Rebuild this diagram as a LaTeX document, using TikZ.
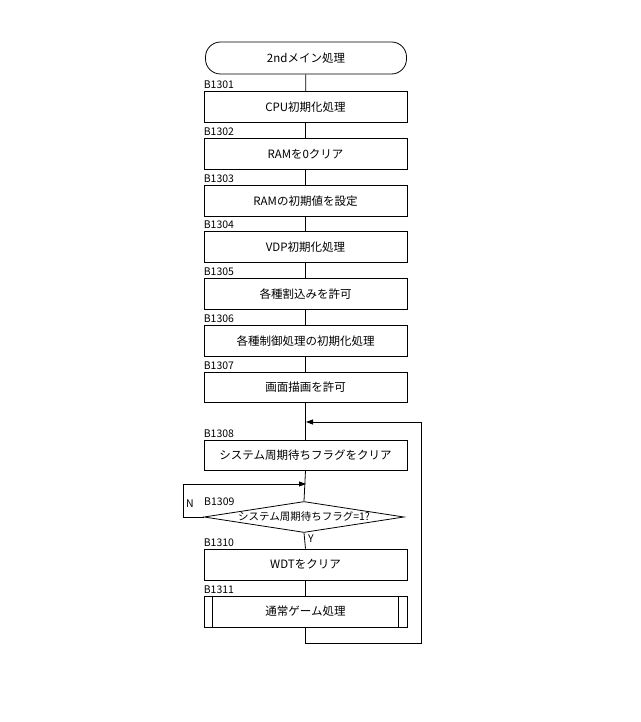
\documentclass[tikz,border=0pt]{standalone}
\usepackage{fontspec}
\setmainfont{Noto Sans CJK JP}
\usetikzlibrary{shapes.geometric,arrows.meta}
\begin{document}
\begin{tikzpicture}[x=1pt,y=-1pt,
  box/.style={draw,line width=0.8pt,minimum width=203pt,minimum height=31pt,inner sep=0pt,font=\fontsize{11.5}{13}\selectfont},
  lab/.style={anchor=south west,inner sep=0pt,font=\fontsize{10.5}{12}\selectfont},
  ln/.style={line width=0.8pt},
  arr/.style={ln,-{Triangle[length=7pt,width=5pt]}}]
\useasboundingbox (0,0) rectangle (640,722);
\node[box,rounded corners=15pt,minimum width=201pt,minimum height=32pt] (s) at (306,58) {2ndメイン処理};
\node[box] (b1) at (305.5,107) {CPU初期化処理};
\node[box] (b2) at (305.5,154) {RAMを0クリア};
\node[box] (b3) at (305.5,201) {RAMの初期値を設定};
\node[box] (b4) at (305.5,247) {VDP初期化処理};
\node[box] (b5) at (305.5,294) {各種割込みを許可};
\node[box] (b6) at (305.5,341) {各種制御処理の初期化処理};
\node[box,minimum height=30pt] (b7) at (305.5,387) {画面描画を許可};
\node[box,minimum height=30pt] (b8) at (305.5,455) {システム周期待ちフラグをクリア};
\node[draw,ln,diamond,aspect=6.6,minimum width=200pt,minimum height=31pt,inner sep=0pt,font=\fontsize{10.5}{12}\selectfont] (d) at (304,517) {システム周期待ちフラグ=1?};
\node[box] (b10) at (305.5,564.5) {WDTをクリア};
\node[box] (b11) at (305.5,611.5) {通常ゲーム処理};
\draw[ln] ([xshift=9pt]b11.north west) -- ([xshift=9pt]b11.south west);
\draw[ln] ([xshift=-9pt]b11.north east) -- ([xshift=-9pt]b11.south east);
\foreach \n/\t in {b1/B1301,b2/B1302,b3/B1303,b4/B1304,b5/B1305,b6/B1306,b7/B1307,b8/B1308,b10/B1310,b11/B1311}
  \node[lab] at ([yshift=2pt]\n.north west) {\t};
\node[lab] at (204,506) {B1309};
\node[lab] at (186,508) {N};
\node[font=\fontsize{10.5}{12}\selectfont,inner sep=0pt] at (311,539) {Y};
\coordinate (m1) at (306,422);
\coordinate (m2) at (306,484);
\draw[ln] (s) -- (b1); \draw[ln] (b1) -- (b2); \draw[ln] (b2) -- (b3);
\draw[ln] (b3) -- (b4); \draw[ln] (b4) -- (b5); \draw[ln] (b5) -- (b6);
\draw[ln] (b6) -- (b7); \draw[ln] (b7.south) -- (b8.north);
\draw[ln] (b8.south) -- (d.north); \draw[ln] (d.south) -- (b10.north);
\draw[ln] (b10) -- (b11);
\draw[arr] (b11.south) -- ++(0,16) -| (421,422) -- (m1);
\draw[arr] (d.west) -- (183,517) |- (m2);
\end{tikzpicture}
\end{document}
